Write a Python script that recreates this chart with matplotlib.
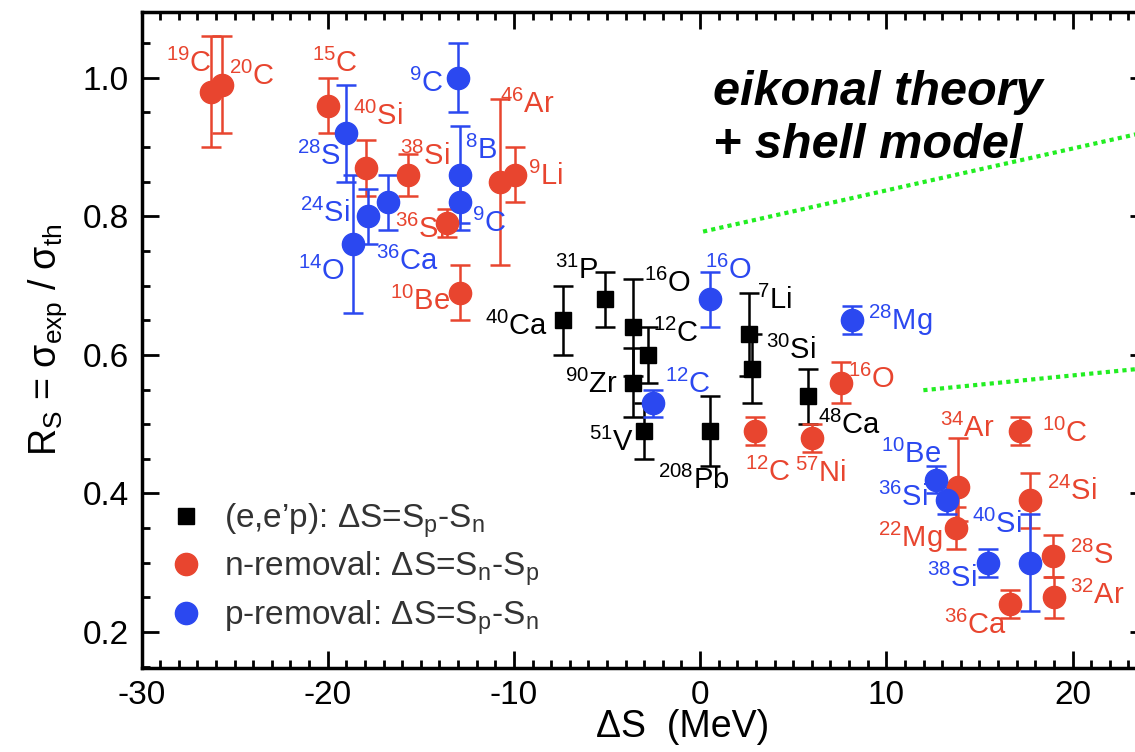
"""Spectroscopic factor reduction R_S versus asymmetry dS (eikonal + shell model)."""
import matplotlib
matplotlib.use('Agg')
from matplotlib import pyplot as plt
from matplotlib.ticker import MultipleLocator, FormatStrFormatter

plt.rcParams['font.family'] = ['Liberation Sans', 'DejaVu Sans']
plt.rcParams['mathtext.fontset'] = 'custom'
plt.rcParams['mathtext.rm'] = 'Liberation Sans'
plt.rcParams['mathtext.it'] = 'Liberation Sans:italic'
plt.rcParams['mathtext.bf'] = 'Liberation Sans:bold'
plt.rcParams['mathtext.default'] = 'regular'
plt.rcParams['axes.unicode_minus'] = False

RED = '#e8452f'
BLUE = '#2b48f0'
BLACK = '#000000'
GREEN = '#22ee22'

# n-removal (knockout) data
red_names = ['19C', '20C', '15C', '40Si', '38Si', '46Ar', '9Li', '36Si', '10Be',
             '16O', '12C', '57Ni', '34Ar', '10C', '24Si', '22Mg', '28S', '32Ar', '36Ca']
red_x = [-26.25, -25.66, -19.97, -17.95, -15.68, -10.73, -9.94, -13.60, -12.91,
         7.55, 2.95, 6.02, 13.87, 17.18, 17.72, 13.77, 18.96, 19.01, 16.64]
red_y = [0.98, 0.99, 0.96, 0.87, 0.86, 0.85, 0.86, 0.79, 0.69,
         0.56, 0.49, 0.48, 0.41, 0.49, 0.39, 0.35, 0.31, 0.25, 0.24]
red_lo = [0.08, 0.07, 0.04, 0.04, 0.03, 0.12, 0.04, 0.02, 0.04,
          0.03, 0.02, 0.02, 0.05, 0.02, 0.04, 0.03, 0.03, 0.03, 0.02]
red_hi = [0.08, 0.07, 0.04, 0.04, 0.03, 0.12, 0.04, 0.02, 0.04,
          0.03, 0.02, 0.02, 0.07, 0.02, 0.04, 0.03, 0.03, 0.03, 0.02]

# p-removal data
blue_names = ['9C', '28S', '8B', '9C', '24Si', '36Ca', '14O', '16O', '28Mg',
              '12C', '10Be', '36Si', '38Si', '40Si']
blue_x = [-13.01, -19.04, -12.91, -12.91, -17.85, -16.76, -18.64, 0.53, 8.14,
          -2.53, 12.69, 13.28, 15.45, 17.72]
blue_y = [1.00, 0.92, 0.86, 0.82, 0.80, 0.82, 0.76, 0.68, 0.65,
          0.53, 0.42, 0.39, 0.30, 0.30]
blue_err = [0.05, 0.07, 0.07, 0.04, 0.04, 0.04, 0.10, 0.04, 0.02,
            0.02, 0.02, 0.02, 0.02, 0.07]

# (e,e'p) data
black_names = ['40Ca', '31P', '16O', '12C', '90Zr', '51V', '208Pb', '7Li', '30Si', '48Ca']
black_x = [-7.37, -5.10, -3.62, -2.78, -3.62, -3.03, 0.53, 2.61, 2.80, 5.77]
black_y = [0.65, 0.68, 0.64, 0.60, 0.56, 0.49, 0.49, 0.63, 0.58, 0.54]
black_err = [0.05, 0.04, 0.07, 0.04, 0.05, 0.04, 0.05, 0.06, 0.05, 0.04]

# label placement: offset in pixels from the point (element centre), alignment
red_lab = [(0, 30, 'right'), (7, 10, 'left'), (-16, 44, 'left'), (-13, 53, 'left'),
           (-8, 20, 'left'), (0, 79, 'left'), (13, 0, 'left'), (-2, -5, 'right'),
           (-10, -7, 'right'), (7, 5, 'left'), (-10, -40, 'left'), (-17, -34, 'left'),
           (-18, 60, 'left'), (22, -1, 'left'), (17, 10, 'left'), (-14, -9, 'right'),
           (17, 2, 'left'), (16, 3, 'left'), (-3, -20, 'right')]
blue_lab = [(-15, -4, 'right'), (-5, -22, 'right'), (5, 26, 'left'), (12, -20, 'left'),
            (-18, 4, 'right'), (-12, -58, 'left'), (-8, -26, 'right'), (-5, 30, 'left'),
            (16, 0, 'left'), (12, 20, 'left'), (5, 27, 'right'), (-20, 4, 'right'),
            (-11, -14, 'right'), (-8, 40, 'right')]
black_lab = [(-15, -5, 'right'), (-7, 30, 'right'), (11, 45, 'left'), (5, 23, 'left'),
             (-15, 0, 'right'), (-10, -10, 'right'), (20, -48, 'right'), (8, 35, 'left'),
             (14, 20, 'left'), (10, -28, 'left')]

# theory band guide lines (dotted green)
upper_line_x = [0.16, 24.0]
upper_line_y = [0.778, 0.922]
lower_line_x = [11.99, 24.0]
lower_line_y = [0.549, 0.581]


def nucleus(name):
    mass = ''.join(c for c in name if c.isdigit())
    elem = ''.join(c for c in name if not c.isdigit())
    return r'$^{%s}$%s' % (mass, elem)


def label_points(ax, names, xs, ys, labs, color):
    for n, x, y, (dx, dy, ha) in zip(names, xs, ys, labs):
        ax.annotate(nucleus(n), (x, y), xytext=(dx, dy - 10),
                    textcoords='offset pixels', ha=ha, va='baseline',
                    fontsize=21, color=color, annotation_clip=False)


fig = plt.figure(figsize=(11.35, 7.52), dpi=100)
fig.patch.set_facecolor('white')
# axis spans -30..24 MeV; the right spine falls just outside the picture
ax = fig.add_axes([141.5 / 1135, 84 / 752, (54 * 18.62) / 1135, 656 / 752])

err_kw = dict(capsize=7, elinewidth=1.8, capthick=1.8, linestyle='none')
ax.errorbar(black_x, black_y, yerr=black_err, fmt='s', ms=11, color=BLACK, **err_kw)
ax.errorbar(red_x, red_y, yerr=[red_lo, red_hi], fmt='o', ms=16, color=RED, **err_kw)
ax.errorbar(blue_x, blue_y, yerr=blue_err, fmt='o', ms=16, color=BLUE, **err_kw)

label_points(ax, red_names, red_x, red_y, red_lab, RED)
label_points(ax, blue_names, blue_x, blue_y, blue_lab, BLUE)
label_points(ax, black_names, black_x, black_y, black_lab, BLACK)

ax.plot(upper_line_x, upper_line_y, linestyle=(0, (1, 1)), color=GREEN, lw=3, clip_on=False)
ax.plot(lower_line_x, lower_line_y, linestyle=(0, (1, 1)), color=GREEN, lw=3, clip_on=False)

ax.text(0.70, 0.961, 'eikonal theory', fontsize=35, fontweight='bold',
        fontstyle='italic', ha='left', va='baseline')
ax.text(0.70, 0.884, '+ shell model', fontsize=35, fontweight='bold',
        fontstyle='italic', ha='left', va='baseline')

# legend
h1, = ax.plot([], [], 's', color=BLACK, ms=11)
h2, = ax.plot([], [], 'o', color=RED, ms=16)
h3, = ax.plot([], [], 'o', color=BLUE, ms=16)
ax.legend([h1, h2, h3],
          [r"(e,e’p): ΔS=S$_p$-S$_n$", r'n-removal: ΔS=S$_n$-S$_p$',
           r'p-removal: ΔS=S$_p$-S$_n$'],
          loc='upper left', bbox_to_anchor=(0.004, 0.29), frameon=False,
          fontsize=24, handletextpad=0.65, labelspacing=0.3, handlelength=1.0,
          borderpad=0.2, labelcolor='#333333')

ax.set_xlim(-30, 24)
ax.set_ylim(0.148, 1.095)
ax.xaxis.set_major_locator(MultipleLocator(10))
ax.xaxis.set_minor_locator(MultipleLocator(1))
ax.yaxis.set_major_locator(MultipleLocator(0.2))
ax.yaxis.set_minor_locator(MultipleLocator(0.05))
ax.yaxis.set_major_formatter(FormatStrFormatter('%.1f'))
ax.tick_params(which='both', direction='in', top=True, right=True, width=2)
ax.tick_params(which='major', length=12, labelsize=24, pad=9)
ax.tick_params(which='minor', length=6)
for sp in ax.spines.values():
    sp.set_linewidth(2.5)

ax.set_xlabel('ΔS  (MeV)', fontsize=27, labelpad=0)
ax.xaxis.set_label_coords((683 - 141.5) / (54 * 18.62), -0.062)
ax.set_ylabel(r'R$_S$ = σ$_{exp}$ / σ$_{th}$', fontsize=27, labelpad=10)

plt.savefig('out.png', dpi=100)
